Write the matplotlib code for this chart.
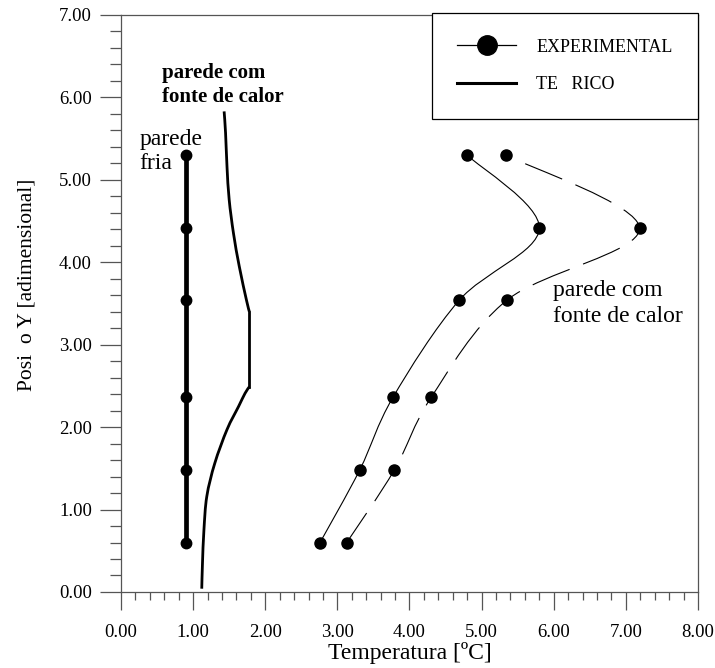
import numpy as np
import matplotlib
matplotlib.use('Agg')
import matplotlib.pyplot as plt
from matplotlib.path import Path
from matplotlib.patches import PathPatch
from matplotlib.lines import Line2D
from matplotlib.ticker import MultipleLocator, FormatStrFormatter

plt.rcParams['font.family'] = ['Liberation Serif', 'DejaVu Serif']

# measured heights (adimensional)
y_pos = [0.60, 1.48, 2.36, 3.54, 4.41, 5.30]

# cold wall, experimental
t_fria = [0.90, 0.90, 0.90, 0.90, 0.90, 0.90]

# heated wall, two experimental runs
t_quente_a = [2.76, 3.31, 3.77, 4.69, 5.80, 4.80]
t_quente_b = [3.13, 3.79, 4.30, 5.35, 7.19, 5.34]

# theoretical profile, heated wall (lower bend, plateau, upper bend)
teo_baixo_t = [1.12, 1.13, 1.15, 1.19, 1.30, 1.47, 1.63, 1.72, 1.78]
teo_baixo_y = [0.04, 0.35, 0.75, 1.16, 1.56, 1.97, 2.25, 2.41, 2.49]
teo_topo_t = [1.78, 1.74, 1.64, 1.56, 1.50, 1.47, 1.45, 1.43]
teo_topo_y = [3.40, 3.54, 3.95, 4.35, 4.76, 5.16, 5.57, 5.83]


def smooth_path(xs, ys):
    """Catmull-Rom through the points, written as cubic Bezier segments."""
    p = np.column_stack([xs, ys]).astype(float)
    ext = np.vstack([p[0], p, p[-1]])
    verts = [p[0]]
    codes = [Path.MOVETO]
    for i in range(1, len(ext) - 2):
        c1 = ext[i] + (ext[i + 1] - ext[i - 1]) / 6.0
        c2 = ext[i + 1] - (ext[i + 2] - ext[i]) / 6.0
        verts += [c1, c2, ext[i + 1]]
        codes += [Path.CURVE4] * 3
    return Path(verts, codes)


fig = plt.figure(figsize=(7.15, 6.68), dpi=100)
ax = fig.add_axes([0.1692, 0.1138, 0.807, 0.8638])

spine_c = '#555555'
for s in ax.spines.values():
    s.set_color(spine_c)
    s.set_linewidth(0.9)

# theoretical curve for the heated wall
ax.add_patch(PathPatch(smooth_path(teo_baixo_t, teo_baixo_y), fill=False,
                       lw=2.0, color='black', capstyle='butt'))
ax.plot([teo_baixo_t[-1], teo_topo_t[0]], [teo_baixo_y[-1], teo_topo_y[0]],
        color='black', lw=2.0)
ax.add_patch(PathPatch(smooth_path(teo_topo_t, teo_topo_y), fill=False,
                       lw=2.0, color='black', capstyle='butt'))

# cold wall
ax.plot(t_fria, y_pos, color='black', lw=3.4, marker='o', ms=7.5,
        solid_capstyle='butt')

# heated wall runs
ax.add_patch(PathPatch(smooth_path(t_quente_a, y_pos), fill=False,
                       lw=0.8, color='black'))
ax.plot(t_quente_a, y_pos, ls='none', marker='o', ms=8, color='black')

dashed = PathPatch(smooth_path(t_quente_b, y_pos), fill=False,
                   lw=0.8, color='black')
dashed.set_linestyle((4, (36, 13)))
ax.add_patch(dashed)
ax.plot(t_quente_b, y_pos, ls='none', marker='o', ms=8, color='black')

ax.set_xlim(0, 8)
ax.set_ylim(0, 7)
ax.xaxis.set_major_locator(MultipleLocator(1))
ax.xaxis.set_minor_locator(MultipleLocator(0.2))
ax.yaxis.set_major_locator(MultipleLocator(1))
ax.yaxis.set_minor_locator(MultipleLocator(0.2))
ax.xaxis.set_major_formatter(FormatStrFormatter('%.2f'))
ax.yaxis.set_major_formatter(FormatStrFormatter('%.2f'))
ax.tick_params(axis='x', which='major', direction='out', length=13,
               width=0.9, color=spine_c, labelsize=13.5, pad=10)
ax.tick_params(axis='x', which='minor', direction='out', length=6,
               width=0.9, color=spine_c)
ax.tick_params(axis='y', which='major', direction='out', length=15,
               width=0.9, color=spine_c, labelsize=13.5, pad=6)
ax.tick_params(axis='y', which='minor', direction='out', length=8,
               width=0.9, color=spine_c)

ax.set_xlabel('Temperatura [ºC]', fontsize=17, labelpad=1)
ax.set_ylabel('Posi  o Y [adimensional]', fontsize=15.5)
ax.yaxis.set_label_coords(-0.147, 0.532)

# annotations
ax.text(0.57, 6.15, 'parede com\nfonte de calor', fontsize=15,
        fontweight='bold', ha='left', va='center', linespacing=1.25)
ax.text(0.26, 5.34, 'parede\nfria', fontsize=17, ha='left', va='center',
        linespacing=1.17)
ax.text(5.99, 3.50, 'parede com\nfonte de calor', fontsize=17, ha='left',
        va='center', linespacing=1.26)

handles = [
    Line2D([], [], color='black', lw=0.9, marker='o', ms=14),
    Line2D([], [], color='black', lw=2.2),
]
leg = ax.legend(handles, ['EXPERIMENTAL', 'TE   RICO'], loc='upper right',
                bbox_to_anchor=(1.0, 1.003), borderaxespad=0, fancybox=False,
                framealpha=1, edgecolor='black', fontsize=13,
                handlelength=3.3, handletextpad=1.1, labelspacing=1.15,
                borderpad=1.4)
leg.get_frame().set_linewidth(0.9)

fig.savefig('out.png', dpi=100, facecolor='white')
